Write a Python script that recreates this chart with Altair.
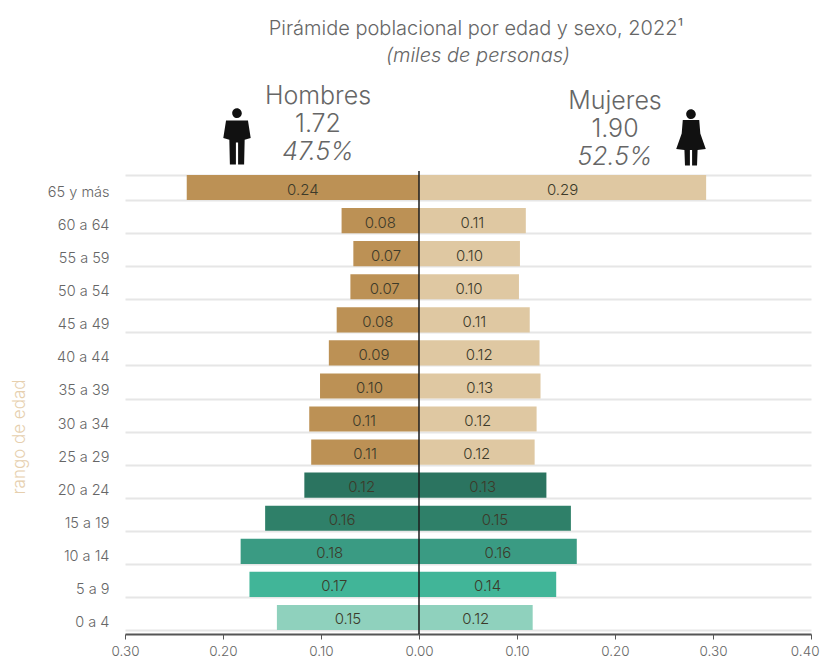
import altair as alt
import pandas as pd

FONT = "Inter"
GRAY = "#666666"

ages = ["65 y más", "60 a 64", "55 a 59", "50 a 54", "45 a 49", "40 a 44", "35 a 39",
        "30 a 34", "25 a 29", "20 a 24", "15 a 19", "10 a 14", "5 a 9", "0 a 4"]
men = [0.237, 0.079, 0.067, 0.070, 0.084, 0.092, 0.101, 0.112, 0.110, 0.117, 0.157, 0.182, 0.173, 0.145]
women = [0.293, 0.109, 0.103, 0.102, 0.113, 0.123, 0.124, 0.120, 0.118, 0.130, 0.155, 0.161, 0.140, 0.116]
men_labels = ["0.24", "0.08", "0.07", "0.07", "0.08", "0.09", "0.10", "0.11", "0.11", "0.12", "0.16", "0.18", "0.17", "0.15"]
women_labels = ["0.29", "0.11", "0.10", "0.10", "0.11", "0.12", "0.13", "0.12", "0.12", "0.13", "0.15", "0.16", "0.14", "0.12"]

tones = ["m", "w", "g20", "g15", "g10", "g5", "g0"]
tone_colors = ["#BC9155", "#DFC8A2", "#2B7460", "#2F8069", "#3A9B83", "#41B598", "#8FD1BD"]
green_tone = {"20 a 24": "g20", "15 a 19": "g15", "10 a 14": "g10", "5 a 9": "g5", "0 a 4": "g0"}

rows = []
for a, m, w, ml, wl in zip(ages, men, women, men_labels, women_labels):
    rows.append({"age": a, "v": -m, "mid": -m / 2, "label": ml, "tone": green_tone.get(a, "m")})
    rows.append({"age": a, "v": w, "mid": w / 2, "label": wl, "tone": green_tone.get(a, "w")})
df = pd.DataFrame(rows)

W, H = 686, 463

x = alt.X("v:Q", scale=alt.Scale(domain=[-0.3, 0.4], nice=False, zero=False),
          axis=alt.Axis(values=[-0.3, -0.2, -0.1, 0, 0.1, 0.2, 0.3, 0.4],
                        labelExpr="format(abs(datum.value), '.2f')", title=None, grid=False,
                        domainColor="#555555", domainWidth=2, tickColor="#555555", tickSize=5,
                        labelColor=GRAY, labelFont=FONT, labelFontSize=13.5, labelFontWeight=300,
                        labelPadding=5, labelFlush=False,
                        labelAlign={"condition": {"test": "datum.value > 0.39", "value": "right"}, "value": "center"},
                        labelOffset={"condition": {"test": "datum.value > 0.39", "value": 8}, "value": 0}))
y = alt.Y("age:N", sort=ages, scale=alt.Scale(paddingInner=0.24, paddingOuter=0.12),
          axis=alt.Axis(title=None, domain=False, ticks=False, grid=True, tickBand="extent",
                        gridColor="#E6E6E6", gridWidth=2, labelColor=GRAY, labelFont=FONT,
                        labelFontSize=14.5, labelFontWeight=300, labelPadding=16, labelOffset=5))

bars = alt.Chart(df).mark_bar().encode(
    x=x, x2=alt.datum(0), y=y,
    color=alt.Color("tone:N", scale=alt.Scale(domain=tones, range=tone_colors), legend=None))

labels = alt.Chart(df).mark_text(font=FONT, fontSize=15, fontWeight=300, color="#3c3a2a", dy=2).encode(
    x=alt.X("mid:Q"), y=alt.Y("age:N", sort=ages), text="label:N")

axis_line = alt.Chart(pd.DataFrame({"v": [0]})).mark_rule(color="#1c1c1c", strokeWidth=1.5).encode(x="v:Q")

texts = [
    ("Pirámide poblacional por edad y sexo, 2022¹", 351, -142, 20, "normal"),
    ("(miles de personas)", 353, -115, 20, "italic"),
    ("Hombres", 193, -75, 25, "normal"),
    ("1.72", 193, -47, 25, "normal"),
    ("47.5%", 193, -19, 25, "italic"),
    ("Mujeres", 490, -70, 25, "normal"),
    ("1.90", 490, -42, 25, "normal"),
    ("52.5%", 490, -14, 25, "italic"),
]
layers = [bars, labels, axis_line]
for t, px, py, fs, st in texts:
    layers.append(alt.Chart(pd.DataFrame({"t": [t]})).mark_text(
        font=FONT, fontSize=fs, fontStyle=st, fontWeight=300, color=GRAY).encode(
        x=alt.value(px), y=alt.value(py), text="t:N"))

layers.append(alt.Chart(pd.DataFrame({"t": ["rango de edad"]})).mark_text(
    font=FONT, fontSize=17, fontWeight=300, angle=270, color="#E6CFAE").encode(
    x=alt.value(-105), y=alt.value(266), text="t:N"))

man_path = ("M-0.06,-0.5 A0.07,0.07 0 1 1 0.06,-0.37 A0.07,0.07 0 1 1 -0.06,-0.5 Z "
            "M-0.2,-0.3 L0.2,-0.3 L0.25,0.02 L0.14,0.05 L0.13,0.5 L0.02,0.5 L0.02,0.1 L-0.02,0.1 "
            "L-0.02,0.5 L-0.13,0.5 L-0.14,0.05 L-0.25,0.02 Z")
woman_path = ("M-0.06,-0.5 A0.07,0.07 0 1 1 0.06,-0.37 A0.07,0.07 0 1 1 -0.06,-0.5 Z "
              "M-0.15,-0.33 L0.15,-0.33 L0.17,-0.08 L0.27,0.2 L0.12,0.22 L0.11,0.5 L0.02,0.5 L0.02,0.22 "
              "L-0.02,0.22 L-0.02,0.5 L-0.11,0.5 L-0.12,0.22 L-0.27,0.2 L-0.17,-0.08 Z")
for path, px, py in [(man_path, 112, -34), (woman_path, 566, -33)]:
    layers.append(alt.Chart(pd.DataFrame({"i": [0]})).mark_point(
        shape=path, filled=True, color="#111111", opacity=1, size=12000).encode(
        x=alt.value(px), y=alt.value(py)))

chart = alt.layer(*layers).properties(
    width=W, height=H, autosize="none",
    padding={"left": 117, "top": 163, "right": 9, "bottom": 30}
).configure_view(stroke=None)

chart.save("out.html", embed_options={"renderer": "svg", "actions": False})
